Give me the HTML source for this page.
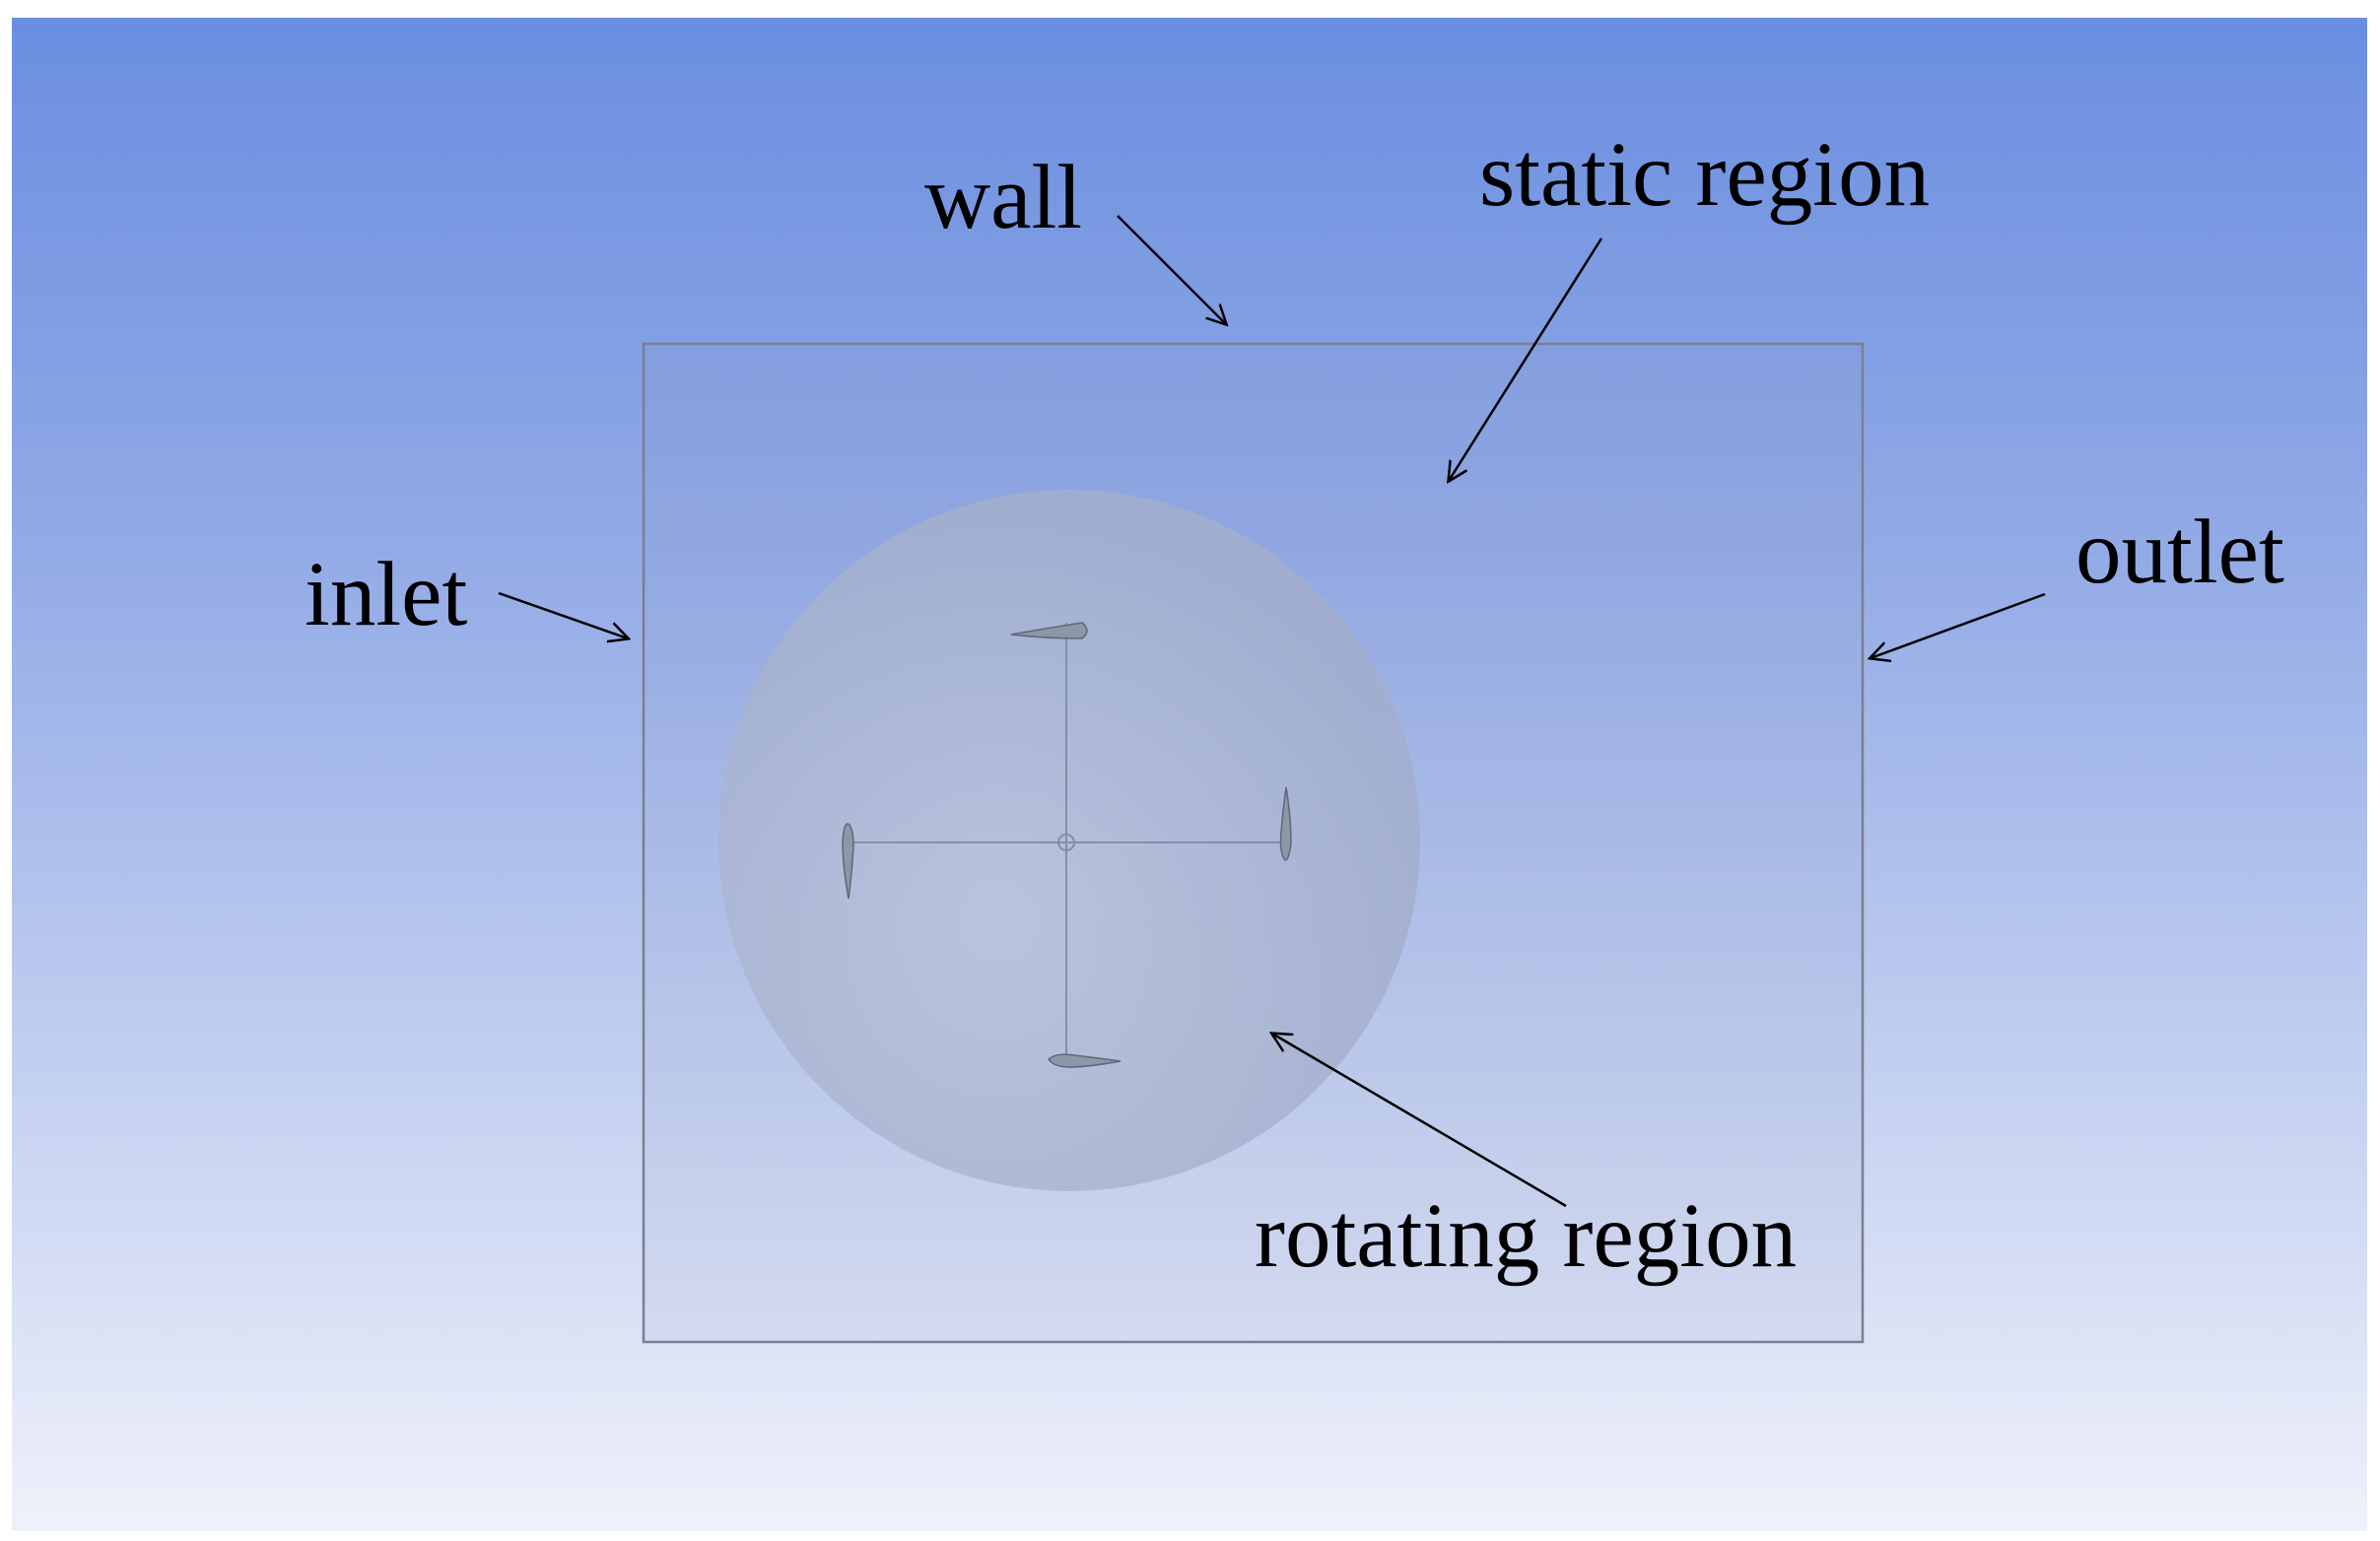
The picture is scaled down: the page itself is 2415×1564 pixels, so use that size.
<!DOCTYPE html>
<html><head><meta charset="utf-8"><style>
html,body{margin:0;padding:0;background:#fff;}
svg{display:block;}
text{font-family:"Liberation Serif",serif;font-size:93px;fill:#000;}
</style></head><body>
<svg width="2415" height="1564" viewBox="0 0 2415 1564" xmlns="http://www.w3.org/2000/svg">
<defs>
<linearGradient id="bg" x1="0" y1="0" x2="0" y2="1">
<stop offset="0" stop-color="#6a8ee0"/>
<stop offset="0.35" stop-color="#92aae6"/>
<stop offset="0.7" stop-color="#c3d0f0"/>
<stop offset="1" stop-color="#eff1fa"/>
</linearGradient>
<radialGradient id="sph" cx="0.4" cy="0.6" r="0.6">
<stop offset="0" stop-color="#bac4dc"/>
<stop offset="1" stop-color="#a3aecc"/>
</radialGradient>
<marker id="ah" markerWidth="22" markerHeight="22" refX="19" refY="11" orient="auto" markerUnits="userSpaceOnUse" viewBox="0 0 22 22">
<path d="M0,1 L20,11 L0,21" fill="none" stroke="#000" stroke-width="2.5"/>
</marker>
</defs>
<rect x="12" y="18" width="2390" height="1536" fill="url(#bg)"/>
<rect x="653" y="349" width="1237" height="1013" fill="#8a96b8" fill-opacity="0.1" stroke="#7a7f90" stroke-width="2.5"/>
<circle cx="1085" cy="853" r="356" fill="url(#sph)" fill-opacity="0.85"/>
<g stroke="#8090a8" stroke-width="2" fill="none">
<line x1="860" y1="855" x2="1305" y2="855"/>
<line x1="1082" y1="632" x2="1082" y2="1077"/>
<circle cx="1082" cy="855" r="8"/>
</g>
<g fill="#8c98a8" stroke="#5d6878" stroke-width="1.5">
<path d="M1026,644 Q1060,638 1098,632 Q1108,640 1098,648 Q1060,648 1026,644Z"/>
<path d="M1064,1075 Q1072,1068 1090,1071 Q1115,1074 1137,1077 Q1110,1082 1090,1083 Q1070,1084 1064,1075Z"/>
<path d="M860,836 Q866,838 866,860 Q864,890 861,912 Q856,885 855,860 Q855,838 860,836Z"/>
<path d="M1305,799 Q1310,830 1310,855 Q1308,873 1304,873 Q1298,865 1300,845 Q1302,820 1305,799Z"/>
</g>
<g stroke="#000" stroke-width="2.5" marker-end="url(#ah)">
<line x1="1134" y1="219" x2="1244" y2="329"/>
<line x1="1625" y1="242" x2="1470" y2="488"/>
<line x1="506" y1="602" x2="637" y2="648"/>
<line x1="2075" y1="603" x2="1898" y2="668"/>
<line x1="1589" y1="1224" x2="1291" y2="1049"/>
</g>
<text x="938" y="231">wall</text>
<text x="1501" y="208">static region</text>
<text x="309" y="634">inlet</text>
<text x="2106" y="591">outlet</text>
<text x="1273" y="1285">rotating region</text>
</svg>
</body></html>
